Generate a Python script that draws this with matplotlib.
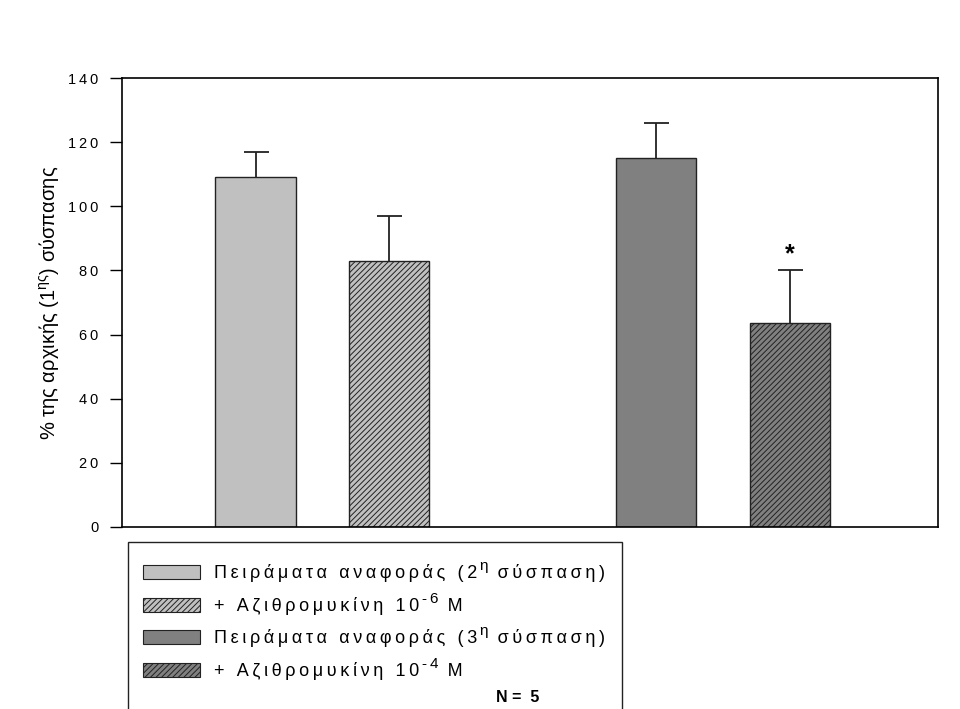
import matplotlib
matplotlib.use("Agg")
import matplotlib.pyplot as plt
from matplotlib.patches import Rectangle
from matplotlib.text import Annotation
from matplotlib.ticker import FixedFormatter

plt.rcParams['font.family'] = ['Liberation Sans', 'DejaVu Sans']
plt.rcParams['mathtext.fontset'] = 'custom'
plt.rcParams['mathtext.rm'] = 'Liberation Sans'
plt.rcParams['mathtext.it'] = 'Liberation Sans'
plt.rcParams['hatch.linewidth'] = 0.7

THIN = '\u2009'


def tracked(s):
    """Widen letter spacing by putting a thin space between characters."""
    return THIN.join(s)


# Data
# Each legend label is a list of (text, is_superscript) pieces
labels = [
    [('Πειράματα αναφοράς (2', False), ('η', True), (' σύσπαση)', False)],
    [('+ Αζιθρομυκίνη 10', False), ('-6', True), (' M', False)],
    [('Πειράματα αναφοράς (3', False), ('η', True), (' σύσπαση)', False)],
    [('+ Αζιθρομυκίνη 10', False), ('-4', True), (' M', False)],
]
means = [109, 83, 115, 63.5]
errors = [8, 14, 11, 16.5]
positions = [1, 2, 4, 5]
colors = ['#c0c0c0', '#c0c0c0', '#808080', '#808080']
hatches = ['', '//////', '', '//////']
yticks = [0, 20, 40, 60, 80, 100, 120, 140]

fig = plt.figure(figsize=(9.6, 7.09), dpi=100)
ax = fig.add_axes([122/960, 1-527/709, (938-122)/960, (527-78)/709])

bars = ax.bar(positions, means, width=0.6, color=colors, edgecolor='#222222',
              linewidth=1.0, zorder=2)
for b, h in zip(bars, hatches):
    b.set_hatch(h)

# upper error bars only
_, caps, _ = ax.errorbar(positions, means, yerr=[[0]*4, errors], fmt='none',
                         ecolor='#222222', elinewidth=1.3, capsize=9,
                         capthick=1.3, zorder=3)
caps[0].set_visible(False)

ax.text(positions[3], means[3] + errors[3] + 5, '*', ha='center', va='center',
        fontsize=18, fontweight='bold')

ax.set_xlim(0, 6.11)
ax.set_ylim(0, 140)
ax.set_xticks([])
ax.set_yticks(yticks)
ax.yaxis.set_major_formatter(FixedFormatter([tracked(str(v)) for v in yticks]))
ax.tick_params(axis='y', direction='out', length=9, width=1, labelsize=10.5, pad=8)
for s in ax.spines.values():
    s.set_linewidth(1.2)

ax.set_ylabel('% της αρχικής (1$^{\\mathregular{ης}}$) σύσπασης', fontsize=14.5, labelpad=5)

# Legend box (runs off the bottom edge)
fig.patches.append(Rectangle((128/960, -0.05), (622-128)/960, 0.05 + 1-542/709,
                             transform=fig.transFigure, fill=False,
                             edgecolor='#222222', linewidth=1.0))
row_y = [572, 605, 637, 670]
for pieces, c, h, y in zip(labels, colors, hatches, row_y):
    fig.patches.append(Rectangle((143/960, 1-(y+7)/709), 57/960, 14/709,
                                 transform=fig.transFigure, facecolor=c,
                                 edgecolor='#222222', linewidth=0.8, hatch=h))
    first = fig.text(214/960, 1-(y+1)/709, tracked(pieces[0][0]), fontsize=13,
                     va='center', ha='left')
    base, last = first, first
    for txt, sup in pieces[1:]:
        if sup:
            last = fig.add_artist(Annotation(THIN + tracked(txt), xy=(1, 0.5),
                                             xycoords=last, fontsize=11,
                                             va='bottom', ha='left'))
        else:
            # x continues after the previous piece, baseline stays on the row
            last = fig.add_artist(Annotation(tracked(txt), xy=(1, 0),
                                             xycoords=(last, base), fontsize=13,
                                             va='bottom', ha='left'))
            base = last

fig.text(496/960, 1-697/709, 'N =  5', fontsize=11.5, fontweight='bold',
         va='center', ha='left')

fig.savefig('out.png', dpi=100)
